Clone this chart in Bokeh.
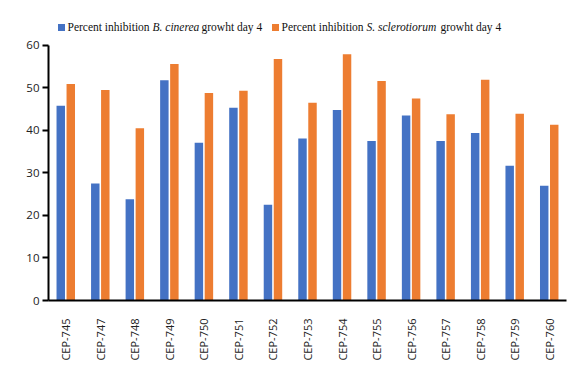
from bokeh.plotting import figure
from bokeh.models import ColumnDataSource, Range1d, FactorRange
from bokeh.transform import dodge
from bokeh.core.properties import value
from bokeh.embed import file_html
from bokeh.resources import INLINE
import math

categories = ["CEP-745", "CEP-747", "CEP-748", "CEP-749", "CEP-750", "CEP-751", "CEP-752", "CEP-753",
              "CEP-754", "CEP-755", "CEP-756", "CEP-757", "CEP-758", "CEP-759", "CEP-760"]
b_cinerea = [45.8, 27.5, 23.8, 51.8, 37.1, 45.3, 22.5, 38.1, 44.8, 37.5, 43.5, 37.5, 39.4, 31.7, 27.0]
s_sclerotiorum = [50.9, 49.5, 40.5, 55.6, 48.8, 49.3, 56.8, 46.5, 57.9, 51.6, 47.5, 43.8, 51.9, 43.9, 41.3]
y_ticks = [0, 10, 20, 30, 40, 50, 60]

BLUE = "#4472C4"
ORANGE = "#ED7D31"

src = ColumnDataSource(dict(cat=categories, b=b_cinerea, s=s_sclerotiorum))

p = figure(width=578, height=363, output_backend="svg", toolbar_location=None,
           x_range=FactorRange(*categories, range_padding=0),
           y_range=Range1d(0, 66.77),
           min_border_left=48, min_border_right=12, min_border_top=16, min_border_bottom=61)
p.outline_line_color = None
p.xgrid.grid_line_color = None
p.ygrid.grid_line_color = None
p.background_fill_color = "white"
p.border_fill_color = "white"

p.vbar(x=dodge("cat", -0.145, range=p.x_range), top="b", width=0.245, source=src,
       fill_color=BLUE, line_color=None)
p.vbar(x=dodge("cat", 0.145, range=p.x_range), top="s", width=0.245, source=src,
       fill_color=ORANGE, line_color=None)

# axes
p.yaxis.bounds = (0, 60)
p.yaxis.ticker = y_ticks
p.yaxis.axis_line_color = "black"
p.yaxis.axis_line_width = 2
p.yaxis.major_tick_line_color = "black"
p.yaxis.major_tick_line_width = 2
p.yaxis.major_tick_out = 6
p.yaxis.major_tick_in = 0
p.yaxis.minor_tick_line_color = None
p.yaxis.major_label_standoff = 3
p.yaxis.major_label_text_font = "Open Sans"
p.yaxis.major_label_text_font_size = "11.5px"
p.yaxis.major_label_text_color = "#222222"

p.xaxis.axis_line_color = "black"
p.xaxis.axis_line_width = 2
p.xaxis.major_tick_line_color = None
p.xaxis.minor_tick_line_color = None
p.xaxis.major_label_orientation = math.pi / 2
p.xaxis.major_label_standoff = 12
p.xaxis.major_label_text_font = "Open Sans"
p.xaxis.major_label_text_font_size = "11px"
p.xaxis.major_label_text_color = "#222222"

# legend (drawn manually to allow italic species names)
unit = 518 / 15.0
def px2x(px):
    return (px - 48) / unit
ly = 64.2
leg = ColumnDataSource(dict(x=[px2x(61), px2x(275)], y=[ly, ly], c=[BLUE, ORANGE]))
p.scatter(x="x", y="y", marker="square", size=7, fill_color="c", line_color=None, source=leg)

pieces = [
    ("Percent inhibition", 67, "normal"),
    ("B. cinerea", 152, "italic"),
    ("growht day 4", 201, "normal"),
    ("Percent inhibition", 281, "normal"),
    ("S. sclerotiorum", 366, "italic"),
    ("growht day 4", 440, "normal"),
]
for txt, px, style in pieces:
    p.text(x=[px2x(px)], y=[ly], text=[txt], text_font=value("Liberation Serif"),
           text_font_size="11.5px", text_font_style=style, text_color="#111111",
           text_align="left", text_baseline="middle")

open("out.html", "w").write(file_html(p, INLINE))
